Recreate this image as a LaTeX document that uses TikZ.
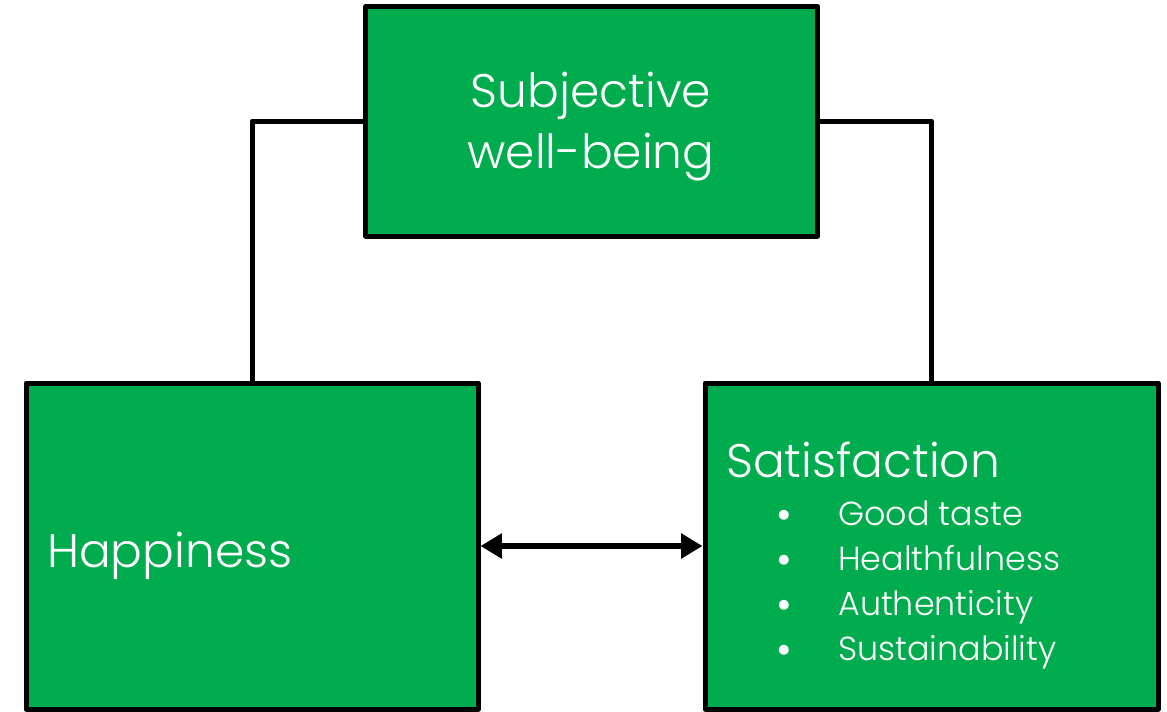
\documentclass[tikz,border=0pt]{standalone}
\usepackage{fontspec}
\setmainfont{Poppins}[UprightFont=* Light]
\usetikzlibrary{arrows.meta}
\definecolor{boxgreen}{RGB}{0,172,78}
\begin{document}
\begin{tikzpicture}[x=0.75pt,y=-0.75pt,
  greenbox/.style={draw=black,fill=boxgreen,line width=3.75pt,line join=round,
    rectangle,inner sep=0pt,minimum width=452*0.75pt},
  bigtext/.style={text=white,inner sep=0pt,font=\fontsize{35.3}{48}\selectfont},
  smalltext/.style={text=white,inner sep=0pt,font=\fontsize{25}{34}\selectfont},
  bullettext/.style={text=white,inner sep=0pt,font=\fontsize{32}{34}\selectfont},
  link/.style={draw=black,line width=3.75pt,line join=round}]
  \useasboundingbox (0,0) rectangle (1167,711);
  % the three boxes
  \node[greenbox,minimum height=229.5*0.75pt] (swb) at (591.75,121.25) {};
  \node[greenbox,minimum height=326*0.75pt] (hap) at (252,546) {};
  \node[greenbox,minimum height=326*0.75pt,minimum width=453*0.75pt] (sat) at (931.5,546) {};
  % texts
  \node[bigtext,anchor=base] (t1) at (591,107) {Subjective};
  \node[bigtext,anchor=base] (t2) at (591,168) {well-being};
  \node[bigtext,anchor=base west] (t3) at (47,567) {Happiness};
  \node[bigtext,anchor=base west] (t4) at (726,477) {Satisfaction};
  \foreach \i/\w/\yy in {1/Good taste/525,2/Healthfulness/570,3/Authenticity/615,4/Sustainability/660}{
    \node[bullettext,anchor=base] (b\i) at (784,\yy+4) {•};
    \node[smalltext,anchor=base west] (s\i) at (838,\yy) {\w};
  }
  % connectors
  \draw[link] (swb.west) -| (hap.north);
  \draw[link] (swb.east) -| (sat.north);
  \draw[draw=black,line width=4.5pt,{Triangle[length=16pt,width=18pt]}-{Triangle[length=16pt,width=18pt]}]
    (hap.east) -- (sat.west);
\end{tikzpicture}
\end{document}
